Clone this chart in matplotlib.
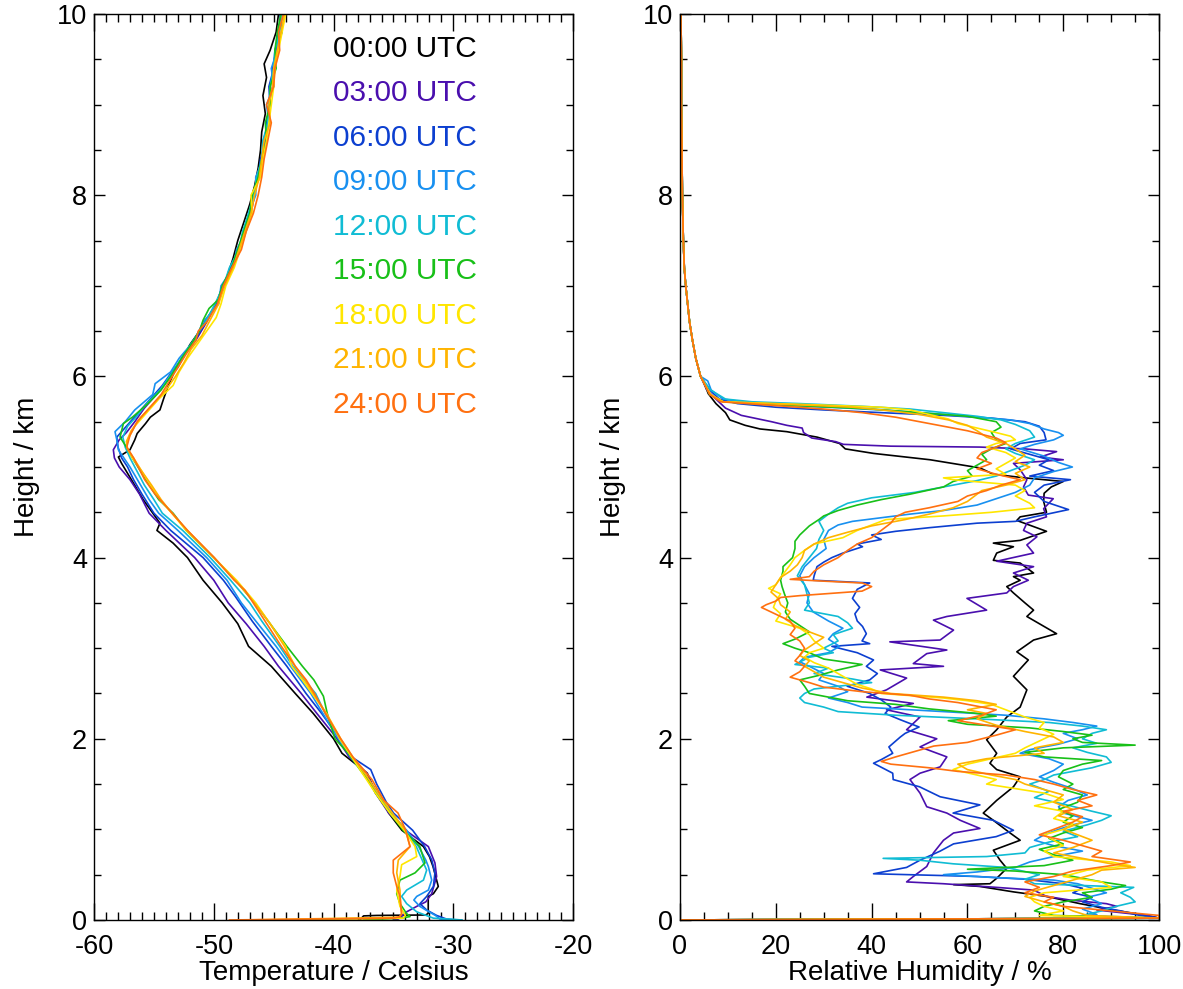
import numpy as np
import matplotlib.pyplot as plt
from matplotlib.ticker import MultipleLocator

plt.rcParams['font.family'] = ['Liberation Sans', 'DejaVu Sans']
plt.rcParams['axes.unicode_minus'] = False

hours = ['00:00 UTC', '03:00 UTC', '06:00 UTC', '09:00 UTC', '12:00 UTC',
         '15:00 UTC', '18:00 UTC', '21:00 UTC', '24:00 UTC']
colours = ['#000000', '#4a0fae', '#0c3fd0', '#1890f0', '#10bcd4',
           '#18c018', '#ffe600', '#ffb400', '#ff7010']

# temperature soundings: (height km, temperature C)
t_00 = [(10.0, -44.6), (9.8, -44.8), (9.6, -45.3), (9.45, -45.8), (9.3, -45.6), (9.1, -45.9),
        (8.9, -45.7), (8.7, -46.0), (8.5, -46.1), (8.3, -46.3), (8.1, -46.6), (7.9, -47.0),
        (7.7, -47.5), (7.5, -48.0), (7.3, -48.4), (7.1, -48.9), (6.95, -49.4), (6.8, -49.8),
        (6.65, -50.5), (6.5, -51.2), (6.35, -52.0), (6.2, -52.6), (6.05, -53.3), (5.9, -53.8),
        (5.75, -54.2), (5.63, -54.5), (5.55, -55.3), (5.48, -55.7), (5.37, -56.4), (5.30, -56.6),
        (5.19, -57.0), (5.11, -57.97), (5.04, -57.7), (4.82, -56.7), (4.64, -55.9), (4.38, -54.5),
        (4.30, -54.75), (4.16, -53.4), (4.0, -52.2), (3.75, -50.9), (3.50, -49.3), (3.27, -48.0),
        (3.02, -47.1), (2.80, -45.2), (2.50, -43.2), (2.28, -41.7), (2.0, -40.0), (1.84, -39.3),
        (1.62, -37.2), (1.50, -36.8), (1.32, -35.9), (1.18, -35.4), (0.99, -34.3), (0.81, -32.5),
        (0.70, -32.0), (0.59, -31.7), (0.44, -31.4), (0.37, -31.26), (0.29, -31.67), (0.26, -32.1),
        (0.074, -32.1), (0.055, -32.3), (0.05, -36.4), (0.045, -37.5), (0.0, -37.8)]
t_03 = [(10.0, -44.3), (9.8, -44.6), (9.6, -44.8), (9.4, -45.1), (9.2, -45.1), (9.0, -45.4),
        (8.8, -45.5), (8.6, -45.8), (8.4, -46.0), (8.2, -46.3), (8.0, -46.6), (7.8, -46.9),
        (7.6, -47.4), (7.4, -48.0), (7.2, -48.5), (7.0, -49.1), (6.8, -49.8), (6.6, -50.6),
        (6.4, -51.5), (6.25, -52.4), (6.1, -53.0), (5.95, -53.9), (5.8, -54.8), (5.65, -55.8),
        (5.5, -56.6), (5.38, -57.3), (5.3, -57.9), (5.19, -58.39), (5.1, -58.3), (5.0, -57.9),
        (4.86, -57.0), (4.7, -56.2), (4.49, -55.4), (4.3, -54.0), (4.0, -51.6), (3.75, -50.0),
        (3.5, -48.8), (3.27, -47.3), (3.02, -45.8), (2.8, -44.6), (2.5, -42.7), (2.28, -41.4),
        (2.0, -39.7), (1.8, -38.7), (1.62, -37.2), (1.4, -36.5), (1.18, -35.4), (0.99, -34.0),
        (0.81, -32.09), (0.63, -31.54), (0.48, -31.4), (0.29, -31.81), (0.20, -32.3),
        (0.15, -33.06), (0.09, -33.9), (0.03, -34.4), (0.01, -34.6), (0.0, -35.0)]
t_06 = [(10.0, -44.5), (9.8, -44.3), (9.6, -44.9), (9.4, -45.0), (9.2, -45.4), (9.0, -45.3),
        (8.8, -45.6), (8.6, -45.7), (8.4, -46.1), (8.2, -46.3), (8.0, -46.7), (7.8, -47.0),
        (7.6, -47.5), (7.4, -47.9), (7.2, -48.6), (7.0, -49.2), (6.8, -49.8), (6.6, -50.7),
        (6.4, -51.6), (6.2, -52.6), (6.05, -53.5), (5.9, -54.3), (5.75, -55.3), (5.6, -56.3),
        (5.45, -57.3), (5.33, -58.1), (5.22, -58.0), (5.1, -57.7), (5.0, -57.2), (4.86, -56.7),
        (4.7, -56.0), (4.49, -55.0), (4.3, -53.6), (4.0, -50.9), (3.75, -49.2), (3.57, -48.2),
        (3.3, -46.8), (3.02, -45.2), (2.8, -43.9), (2.5, -42.3), (2.28, -41.0), (2.0, -39.5),
        (1.8, -38.5), (1.66, -36.9), (1.5, -36.4), (1.3, -35.6), (1.18, -35.0), (0.99, -33.4),
        (0.81, -32.4), (0.66, -31.8), (0.52, -31.54), (0.37, -31.67), (0.26, -32.23),
        (0.18, -32.79), (0.11, -32.23), (0.05, -31.4), (0.01, -30.57), (0.0, -29.9)]
t_09 = [(10.0, -44.2), (9.8, -44.6), (9.6, -44.7), (9.4, -45.2), (9.2, -45.0), (9.0, -45.6),
        (8.8, -45.4), (8.6, -45.9), (8.4, -45.9), (8.2, -46.5), (8.0, -46.5), (7.8, -47.1),
        (7.6, -47.3), (7.4, -48.1), (7.2, -48.4), (7.0, -49.4), (6.8, -49.6), (6.6, -50.9),
        (6.4, -51.6), (6.2, -52.9), (6.05, -53.6), (5.92, -54.9), (5.8, -55.1), (5.63, -56.6),
        (5.5, -57.4), (5.39, -58.25), (5.30, -58.1), (5.19, -57.97), (5.0, -57.0), (4.82, -56.2),
        (4.64, -55.4), (4.49, -54.6), (4.3, -53.0), (4.0, -50.6), (3.75, -48.9), (3.5, -47.7),
        (3.3, -46.5), (3.02, -44.8), (2.8, -43.6), (2.5, -41.9), (2.28, -40.9), (2.0, -39.6),
        (1.8, -38.6), (1.62, -37.5), (1.4, -36.3), (1.18, -35.2), (0.99, -33.9), (0.81, -32.9),
        (0.66, -32.3), (0.59, -32.09), (0.44, -31.81), (0.33, -32.09), (0.26, -33.06),
        (0.22, -33.3), (0.15, -32.8), (0.11, -32.3), (0.05, -31.5), (0.01, -31.12), (0.0, -29.3)]
t_12 = [(10.0, -44.3), (9.8, -44.5), (9.6, -44.9), (9.4, -45.0), (9.2, -45.3), (9.0, -45.4),
        (8.8, -45.5), (8.6, -45.9), (8.4, -46.0), (8.2, -46.4), (8.0, -46.7), (7.8, -47.1),
        (7.6, -47.6), (7.4, -47.9), (7.2, -48.7), (7.0, -49.2), (6.8, -49.9), (6.6, -50.7),
        (6.4, -51.7), (6.2, -52.7), (6.0, -53.7), (5.85, -54.5), (5.7, -55.6), (5.55, -56.5),
        (5.45, -57.2), (5.33, -57.6), (5.22, -57.4), (5.1, -57.0), (4.95, -56.4), (4.8, -55.8),
        (4.64, -55.0), (4.49, -54.3), (4.3, -52.6), (4.0, -50.3), (3.75, -48.6), (3.5, -47.0),
        (3.3, -46.0), (3.02, -44.5), (2.8, -43.4), (2.5, -41.5), (2.28, -40.7), (2.0, -39.5),
        (1.8, -38.5), (1.6, -37.4), (1.4, -36.4), (1.18, -35.2), (0.99, -34.0), (0.81, -33.1),
        (0.66, -32.6), (0.55, -32.23), (0.44, -32.5), (0.33, -33.9), (0.26, -34.32),
        (0.18, -33.9), (0.09, -33.06), (0.02, -31.67), (0.0, -29.3)]
t_15 = [(10.0, -44.4), (9.8, -44.7), (9.6, -44.9), (9.4, -44.8), (9.2, -45.3), (9.0, -45.3),
        (8.8, -45.7), (8.6, -45.6), (8.4, -46.0), (8.2, -46.3), (8.0, -46.8), (7.8, -47.0),
        (7.6, -47.5), (7.4, -48.0), (7.2, -48.5), (7.0, -49.3), (6.85, -49.6), (6.75, -50.4),
        (6.62, -50.9), (6.5, -51.2), (6.35, -51.9), (6.2, -52.7), (6.0, -53.6), (5.85, -54.4),
        (5.7, -55.5), (5.55, -56.8), (5.48, -57.55), (5.33, -57.83), (5.22, -57.3), (5.1, -56.8),
        (4.95, -56.1), (4.8, -55.4), (4.64, -54.6), (4.49, -53.4), (4.3, -52.3), (4.0, -50.0),
        (3.75, -48.2), (3.5, -46.6), (3.27, -45.3), (3.02, -43.9), (2.8, -42.6), (2.65, -41.65),
        (2.47, -40.85), (2.28, -40.53), (2.0, -39.89), (1.84, -38.77), (1.66, -37.8),
        (1.55, -37.17), (1.4, -36.5), (1.18, -35.3), (0.99, -34.2), (0.81, -32.8), (0.63, -32.37),
        (0.52, -33.2), (0.44, -34.46), (0.37, -34.6), (0.29, -34.73), (0.18, -34.46),
        (0.07, -33.9), (0.037, -33.62), (0.02, -34.4), (0.0, -37.5)]
t_18 = [(10.0, -44.0), (9.8, -44.3), (9.6, -44.6), (9.4, -44.9), (9.2, -45.0), (9.0, -45.2),
        (8.8, -45.4), (8.6, -45.6), (8.4, -45.9), (8.2, -46.1), (8.0, -46.9), (7.8, -46.8),
        (7.6, -47.3), (7.4, -47.8), (7.2, -48.3), (7.0, -49.0), (6.8, -49.4), (6.65, -49.8),
        (6.5, -50.6), (6.35, -51.4), (6.2, -52.2), (6.05, -52.9), (5.9, -53.4), (5.75, -54.6),
        (5.6, -55.6), (5.45, -56.6), (5.3, -57.2), (5.22, -57.27), (5.1, -56.8), (4.95, -56.0),
        (4.8, -55.3), (4.64, -54.5), (4.49, -53.5), (4.3, -52.3), (4.0, -50.0), (3.75, -48.1),
        (3.5, -46.5), (3.27, -45.3), (3.02, -44.0), (2.80, -43.5), (2.65, -42.6), (2.5, -41.8),
        (2.28, -40.6), (2.0, -39.5), (1.8, -38.5), (1.6, -37.5), (1.4, -36.5), (1.18, -35.3),
        (0.99, -34.1), (0.81, -33.2), (0.70, -33.06), (0.61, -34.32), (0.48, -34.46),
        (0.33, -34.73), (0.15, -34.46), (0.05, -34.0), (0.02, -34.2), (0.0, -43.6)]
t_21 = [(10.0, -44.1), (9.8, -44.4), (9.6, -44.7), (9.4, -45.0), (9.2, -45.1), (9.0, -45.4),
        (8.8, -45.3), (8.6, -45.8), (8.4, -46.0), (8.2, -46.2), (8.0, -46.6), (7.8, -46.9),
        (7.6, -47.4), (7.4, -47.9), (7.2, -48.4), (7.0, -49.1), (6.8, -49.6), (6.6, -50.4),
        (6.45, -51.0), (6.3, -51.9), (6.15, -52.5), (6.0, -53.2), (5.85, -54.0), (5.7, -55.0),
        (5.55, -56.1), (5.4, -56.9), (5.28, -57.3), (5.2, -57.2), (5.1, -56.7), (4.95, -56.0),
        (4.8, -55.2), (4.64, -54.4), (4.49, -53.5), (4.3, -52.2), (4.0, -50.0), (3.75, -48.2),
        (3.5, -46.6), (3.27, -45.3), (3.02, -44.1), (2.8, -43.2), (2.65, -42.4), (2.5, -41.7),
        (2.28, -40.6), (2.0, -39.4), (1.8, -38.4), (1.6, -37.3), (1.4, -36.3), (1.18, -35.1),
        (0.99, -34.0), (0.81, -33.62), (0.66, -34.6), (0.52, -34.73), (0.33, -34.46),
        (0.15, -34.4), (0.07, -34.32), (0.03, -34.5), (0.0, -47.3)]
t_24 = [(10.0, -44.2), (9.8, -44.6), (9.6, -44.5), (9.4, -44.9), (9.2, -45.0), (9.0, -45.6),
        (8.8, -45.2), (8.6, -45.5), (8.4, -45.8), (8.2, -46.0), (8.0, -46.3), (7.8, -46.7),
        (7.6, -47.3), (7.4, -47.7), (7.2, -48.5), (7.0, -49.2), (6.8, -49.7), (6.6, -50.6),
        (6.5, -51.3), (6.4, -51.5), (6.25, -52.3), (6.1, -53.0), (5.95, -53.7), (5.8, -54.4),
        (5.65, -55.4), (5.5, -56.4), (5.35, -57.0), (5.22, -57.27), (5.1, -56.7), (4.86, -55.77),
        (4.7, -54.9), (4.49, -53.47), (4.3, -52.2), (4.0, -49.96), (3.75, -48.3), (3.64, -47.40),
        (3.38, -46.12), (3.02, -44.36), (2.8, -43.2), (2.65, -42.29), (2.5, -41.6),
        (2.28, -40.69), (2.0, -39.41), (1.8, -38.4), (1.55, -36.8), (1.32, -35.8), (1.18, -34.62),
        (0.99, -33.98), (0.81, -33.62), (0.66, -35.02), (0.52, -35.02), (0.37, -34.73),
        (0.26, -34.46), (0.07, -34.32), (0.037, -34.46), (0.02, -35.0), (0.0, -48.7)]

# relative humidity soundings: (height km, RH %), common dry upper part first
rh_top = [(10.0, 0.2), (9.5, 0.3), (9.0, 0.3), (8.5, 0.4), (8.0, 0.5), (7.5, 0.7), (7.2, 0.9),
          (7.0, 1.2), (6.8, 1.6), (6.6, 2.0), (6.4, 2.6), (6.2, 3.3), (6.0, 4.3)]
rh_00 = rh_top + [
    (5.96, 4.8), (5.81, 5.9), (5.7, 7.5), (5.6, 9.5), (5.52, 10.4), (5.46, 13.6), (5.42, 16.7),
    (5.39, 22.3), (5.33, 28.6), (5.26, 33.3), (5.2, 34.5), (5.15, 40.4), (5.08, 52.2),
    (4.99, 62.6), (4.92, 65.4), (4.88, 72.0), (4.84, 80.0), (4.78, 77.5), (4.71, 76.0),
    (4.62, 75.9), (4.5, 76.5), (4.45, 71.0), (4.41, 70.3), (4.29, 76.5), (4.19, 71.0),
    (4.16, 65.4), (4.12, 69.6), (4.05, 66.1), (3.97, 65.4), (3.94, 71.0), (3.83, 73.8),
    (3.79, 69.6), (3.75, 71.0), (3.68, 68.2), (3.61, 69.6), (3.5, 72.0), (3.42, 73.8),
    (3.35, 72.4), (3.16, 78.6), (3.09, 73.8), (2.96, 70.3), (2.87, 72.7), (2.69, 69.6),
    (2.54, 72.4), (2.35, 71.0), (2.24, 68.2), (2.10, 66.1), (1.99, 64.0), (1.84, 66.1),
    (1.73, 64.7), (1.66, 66.1), (1.58, 71.0), (1.47, 69.6), (1.32, 66.1), (1.18, 63.3),
    (1.10, 65.4), (0.96, 68.9), (0.88, 71.0), (0.77, 65.4), (0.66, 66.8), (0.57, 68.2),
    (0.46, 66.1), (0.40, 64.7), (0.39, 57.1), (0.37, 62.6), (0.31, 69.6), (0.26, 76.5),
    (0.18, 83.5), (0.11, 90.4), (0.05, 97.4), (0.02, 100.0), (0.0, 0.0)]
rh_03 = rh_top + [
    (5.85, 5.6), (5.75, 7.5), (5.65, 9.5), (5.57, 12.8), (5.50, 19.1), (5.46, 22.3),
    (5.43, 25.5), (5.38, 25.8), (5.32, 27.5), (5.28, 32.5), (5.25, 34.1), (5.23, 44.0),
    (5.22, 62.6), (5.20, 72.0), (5.17, 78.6), (5.11, 75.2), (5.08, 80.0), (5.04, 69.6),
    (4.97, 71.0), (4.86, 72.4), (4.78, 71.7), (4.69, 72.7), (4.65, 77.9), (4.54, 75.9),
    (4.45, 76.5), (4.38, 72.4), (4.30, 71.7), (4.23, 74.5), (4.14, 72.4), (4.05, 73.8),
    (3.96, 66.1), (3.90, 73.8), (3.83, 69.6), (3.75, 72.7), (3.68, 69.6), (3.61, 68.2),
    (3.55, 59.9), (3.42, 64.0), (3.35, 55.7), (3.31, 52.9), (3.20, 57.1), (3.09, 54.3),
    (3.07, 43.8), (2.98, 55.7), (2.94, 51.5), (2.83, 48.7), (2.80, 55.0), (2.76, 41.8),
    (2.67, 47.3), (2.54, 43.1), (2.46, 39.0), (2.39, 48.7), (2.32, 43.1), (2.24, 50.1),
    (2.10, 47.3), (2.00, 53.6), (1.91, 50.1), (1.80, 55.7), (1.69, 54.3), (1.62, 50.1),
    (1.55, 48.0), (1.40, 50.1), (1.25, 51.5), (1.18, 55.7), (1.10, 58.5), (1.01, 62.6),
    (0.96, 57.1), (0.88, 55.0), (0.74, 52.9), (0.59, 51.5), (0.48, 48.7), (0.42, 47.3),
    (0.40, 55.0), (0.36, 66.0), (0.33, 73.8), (0.26, 76.5), (0.22, 81.4), (0.18, 89.0),
    (0.15, 91.2), (0.11, 87.0), (0.05, 97.4), (0.02, 100.0), (0.0, 0.0)]
rh_06 = rh_top + [
    (5.85, 6.2), (5.75, 8.2), (5.70, 12.0), (5.66, 20.0), (5.63, 30.0), (5.60, 42.0),
    (5.57, 55.0), (5.54, 65.0), (5.50, 72.0), (5.45, 75.0), (5.38, 76.0), (5.30, 76.4),
    (5.26, 71.0), (5.20, 69.0), (5.14, 73.0), (5.08, 77.0), (5.02, 75.0), (4.96, 78.0),
    (4.90, 73.0), (4.86, 81.5), (4.80, 76.0), (4.72, 74.0), (4.62, 76.0), (4.53, 81.1),
    (4.45, 74.0), (4.40, 70.0), (4.38, 62.0), (4.33, 52.0), (4.29, 45.0), (4.25, 40.0),
    (4.20, 42.0), (4.15, 37.0), (4.12, 38.1), (4.05, 34.0), (4.00, 31.7), (3.95, 30.0),
    (3.90, 28.6), (3.80, 28.0), (3.75, 27.8), (3.72, 39.6), (3.65, 37.0), (3.55, 36.0),
    (3.45, 37.5), (3.38, 36.5), (3.30, 37.0), (3.24, 38.1), (3.16, 38.9), (3.08, 38.0),
    (3.05, 39.6), (3.02, 31.7), (2.95, 37.0), (2.87, 40.4), (2.80, 38.9), (2.72, 41.2),
    (2.65, 39.6), (2.58, 34.9), (2.50, 39.6), (2.43, 42.0), (2.35, 44.0), (2.28, 42.8),
    (2.21, 46.0), (2.13, 49.9), (2.06, 47.0), (2.02, 46.0), (1.91, 43.6), (1.84, 44.4),
    (1.77, 42.0), (1.73, 40.4), (1.62, 44.4), (1.55, 44.5), (1.47, 50.0), (1.36, 54.3),
    (1.27, 62.6), (1.18, 57.0), (1.10, 65.4), (0.99, 69.6), (0.92, 66.0), (0.84, 57.1),
    (0.76, 54.3), (0.66, 50.1), (0.58, 47.3), (0.51, 40.4), (0.49, 55.0), (0.48, 62.0),
    (0.45, 72.0), (0.40, 80.0), (0.35, 84.0), (0.30, 82.0), (0.25, 86.0), (0.20, 84.0),
    (0.14, 88.0), (0.10, 92.0), (0.05, 96.0), (0.02, 100.0), (0.0, 0.0)]
rh_09 = rh_top + [
    (5.95, 5.8), (5.85, 6.5), (5.75, 9.0), (5.72, 13.0), (5.70, 18.0), (5.67, 26.0),
    (5.65, 35.0), (5.62, 45.0), (5.58, 55.0), (5.55, 62.0), (5.52, 69.0), (5.48, 73.0),
    (5.42, 76.0), (5.38, 79.0), (5.35, 80.0), (5.30, 78.0), (5.25, 74.0), (5.20, 71.0),
    (5.12, 76.0), (5.05, 79.0), (5.00, 81.9), (4.95, 78.0), (4.88, 74.0), (4.80, 73.0),
    (4.72, 70.0), (4.65, 66.0), (4.58, 62.0), (4.52, 55.0), (4.48, 48.0), (4.44, 42.0),
    (4.40, 36.0), (4.36, 33.0), (4.30, 31.0), (4.20, 30.0), (4.10, 30.5), (4.00, 28.0),
    (3.90, 26.0), (3.80, 25.0), (3.70, 26.0), (3.60, 27.0), (3.50, 26.5), (3.40, 27.8),
    (3.30, 31.0), (3.22, 34.0), (3.16, 32.0), (3.10, 31.0), (3.02, 33.3), (2.95, 31.0),
    (2.90, 26.0), (2.85, 25.0), (2.80, 27.0), (2.72, 30.0), (2.65, 29.0), (2.58, 33.0),
    (2.52, 35.0), (2.45, 31.0), (2.40, 35.0), (2.35, 38.0), (2.30, 55.0), (2.26, 68.0),
    (2.22, 76.0), (2.18, 82.0), (2.14, 87.0), (2.10, 84.0), (2.06, 80.0), (2.00, 83.0),
    (1.94, 79.0), (1.88, 73.0), (1.84, 71.0), (1.78, 77.0), (1.72, 80.0), (1.65, 78.0),
    (1.58, 75.0), (1.52, 78.0), (1.45, 82.0), (1.38, 85.0), (1.32, 81.0), (1.25, 79.0),
    (1.18, 80.0), (1.10, 86.0), (1.05, 82.0), (1.00, 79.0), (0.94, 76.0), (0.88, 74.0),
    (0.82, 78.0), (0.76, 84.0), (0.70, 78.0), (0.64, 73.0), (0.58, 70.0), (0.53, 62.0),
    (0.50, 55.0), (0.47, 65.0), (0.44, 78.0), (0.40, 83.0), (0.35, 86.0), (0.30, 89.0),
    (0.25, 85.0), (0.18, 88.0), (0.12, 84.0), (0.06, 87.0), (0.03, 80.0), (0.02, 100.0),
    (0.0, 0.0)]
rh_12 = rh_top + [
    (5.85, 6.4), (5.75, 9.5), (5.72, 15.0), (5.70, 25.0), (5.67, 38.0), (5.64, 48.0),
    (5.60, 55.0), (5.56, 62.0), (5.52, 67.0), (5.47, 70.0), (5.40, 73.0), (5.33, 74.0),
    (5.26, 70.0), (5.20, 68.0), (5.15, 70.0), (5.08, 74.0), (5.02, 72.0), (4.96, 69.0),
    (4.90, 66.0), (4.85, 62.0), (4.78, 55.0), (4.72, 49.0), (4.66, 40.0), (4.60, 35.0),
    (4.55, 33.0), (4.48, 31.0), (4.40, 29.0), (4.30, 30.0), (4.20, 29.0), (4.10, 28.5),
    (4.00, 27.0), (3.90, 25.5), (3.80, 24.5), (3.70, 26.0), (3.60, 26.5), (3.50, 27.0),
    (3.42, 26.0), (3.35, 33.0), (3.28, 35.0), (3.22, 36.0), (3.15, 32.0), (3.08, 33.0),
    (3.00, 30.0), (2.95, 32.0), (2.90, 27.0), (2.82, 24.0), (2.78, 31.0), (2.72, 28.0),
    (2.66, 36.0), (2.62, 40.0), (2.58, 33.0), (2.55, 28.0), (2.50, 26.0), (2.45, 25.0),
    (2.40, 26.0), (2.35, 30.0), (2.30, 33.0), (2.26, 45.0), (2.22, 62.0), (2.18, 77.0),
    (2.14, 84.0), (2.10, 89.0), (2.06, 86.0), (2.00, 84.0), (1.95, 87.0), (1.90, 82.0),
    (1.85, 85.0), (1.80, 89.0), (1.74, 90.0), (1.68, 86.0), (1.60, 78.0), (1.55, 76.0),
    (1.50, 73.0), (1.42, 77.0), (1.35, 74.0), (1.28, 80.0), (1.20, 86.0), (1.15, 90.0),
    (1.10, 88.0), (1.05, 85.0), (0.98, 80.0), (0.92, 83.0), (0.86, 77.0), (0.80, 73.0),
    (0.74, 72.0), (0.70, 64.0), (0.68, 42.4), (0.66, 50.0), (0.62, 57.0), (0.58, 68.0),
    (0.50, 75.0), (0.45, 72.0), (0.40, 74.0), (0.36, 94.7), (0.30, 92.0), (0.25, 94.0),
    (0.20, 95.0), (0.15, 91.0), (0.10, 88.0), (0.05, 84.0), (0.02, 100.0), (0.0, 0.0)]
rh_15 = rh_top + [
    (5.8, 6.2), (5.72, 9.0), (5.69, 18.0), (5.67, 28.0), (5.64, 40.0), (5.60, 50.0),
    (5.56, 60.0), (5.50, 66.0), (5.44, 67.0), (5.38, 65.0), (5.30, 66.0), (5.26, 68.0),
    (5.20, 65.0), (5.14, 63.0), (5.08, 64.0), (5.02, 62.0), (4.96, 60.0), (4.90, 61.0),
    (4.84, 57.0), (4.78, 55.0), (4.70, 48.0), (4.64, 42.0), (4.58, 37.0), (4.52, 33.0),
    (4.46, 30.0), (4.42, 29.0), (4.35, 27.0), (4.30, 26.0), (4.25, 25.0), (4.18, 24.0),
    (4.10, 24.0), (4.00, 23.5), (3.95, 22.5), (3.90, 21.5), (3.85, 21.5), (3.75, 21.0),
    (3.68, 21.3), (3.60, 21.8), (3.50, 22.5), (3.40, 22.0), (3.32, 23.0), (3.25, 25.0),
    (3.18, 27.0), (3.10, 24.0), (3.05, 21.5), (3.00, 24.0), (2.95, 27.0), (2.88, 30.0),
    (2.82, 38.0), (2.76, 33.0), (2.70, 29.0), (2.65, 25.0), (2.58, 26.0), (2.50, 27.0),
    (2.42, 35.0), (2.38, 45.0), (2.33, 52.0), (2.28, 62.0), (2.25, 66.0), (2.20, 56.0),
    (2.16, 60.0), (2.12, 73.0), (2.08, 80.0), (2.04, 86.0), (2.00, 82.0), (1.96, 84.0),
    (1.93, 95.0), (1.90, 80.0), (1.85, 72.0), (1.80, 76.0), (1.76, 88.0), (1.72, 84.0),
    (1.65, 80.0), (1.58, 79.0), (1.50, 82.0), (1.44, 80.0), (1.38, 84.0), (1.30, 83.0),
    (1.22, 79.0), (1.15, 82.0), (1.08, 80.0), (1.02, 84.0), (0.96, 80.0), (0.90, 77.0),
    (0.84, 80.0), (0.78, 75.0), (0.72, 78.0), (0.66, 82.0), (0.60, 76.0), (0.56, 60.0),
    (0.54, 70.0), (0.50, 80.0), (0.46, 84.0), (0.42, 88.0), (0.38, 93.0), (0.34, 90.0),
    (0.30, 84.0), (0.25, 86.0), (0.20, 80.0), (0.15, 76.0), (0.10, 74.0), (0.05, 78.0),
    (0.02, 100.0), (0.0, 0.0)]
rh_18 = rh_top + [
    (5.8, 6.4), (5.72, 9.0), (5.70, 20.0), (5.68, 32.0), (5.66, 42.0), (5.63, 48.0),
    (5.58, 52.0), (5.53, 56.0), (5.48, 58.0), (5.43, 62.0), (5.38, 66.0), (5.34, 69.0),
    (5.30, 70.0), (5.26, 66.0), (5.22, 64.0), (5.16, 68.0), (5.10, 70.0), (5.04, 68.0),
    (4.98, 66.0), (4.92, 68.0), (4.88, 55.0), (4.86, 57.0), (4.80, 70.0), (4.74, 72.0),
    (4.68, 70.0), (4.60, 73.0), (4.55, 74.0), (4.50, 65.0), (4.46, 55.0), (4.42, 43.0),
    (4.36, 40.0), (4.30, 37.0), (4.22, 34.0), (4.15, 28.0), (4.08, 26.0), (4.00, 24.0),
    (3.92, 23.0), (3.85, 22.0), (3.78, 21.0), (3.70, 20.0), (3.66, 18.5), (3.60, 21.0),
    (3.52, 20.0), (3.45, 19.5), (3.38, 21.0), (3.30, 20.0), (3.22, 25.0), (3.15, 27.0),
    (3.08, 28.0), (3.00, 30.0), (2.95, 27.0), (2.90, 26.0), (2.84, 28.0), (2.78, 31.0),
    (2.72, 33.0), (2.66, 35.0), (2.60, 37.0), (2.55, 40.0), (2.50, 42.0), (2.45, 55.0),
    (2.42, 60.0), (2.38, 65.0), (2.34, 67.0), (2.28, 70.0), (2.24, 72.0), (2.18, 76.0),
    (2.12, 75.0), (2.05, 78.0), (2.00, 76.0), (1.95, 74.0), (1.90, 72.0), (1.84, 70.0),
    (1.78, 65.0), (1.72, 60.0), (1.66, 57.0), (1.60, 62.0), (1.55, 66.0), (1.50, 64.0),
    (1.45, 70.0), (1.40, 76.0), (1.33, 80.0), (1.26, 74.0), (1.20, 80.0), (1.12, 78.0),
    (1.06, 82.0), (1.00, 80.0), (0.94, 76.0), (0.88, 78.0), (0.82, 80.0), (0.76, 76.0),
    (0.70, 78.0), (0.64, 90.0), (0.60, 94.0), (0.55, 85.0), (0.48, 80.0), (0.42, 88.0),
    (0.36, 90.0), (0.30, 76.0), (0.25, 73.0), (0.20, 74.0), (0.15, 76.0), (0.10, 80.0),
    (0.05, 75.0), (0.02, 100.0), (0.0, 0.0)]
rh_21 = rh_top + [
    (5.8, 6.3), (5.72, 9.0), (5.70, 18.0), (5.68, 28.0), (5.66, 36.0), (5.62, 44.0),
    (5.58, 50.0), (5.52, 56.0), (5.46, 60.0), (5.40, 62.0), (5.33, 64.0), (5.26, 68.0),
    (5.20, 70.0), (5.13, 72.0), (5.06, 70.0), (5.00, 73.0), (4.93, 70.0), (4.86, 72.0),
    (4.80, 68.0), (4.74, 63.0), (4.70, 62.0), (4.62, 60.0), (4.55, 57.0), (4.48, 52.0),
    (4.42, 47.0), (4.35, 40.0), (4.28, 35.0), (4.22, 31.0), (4.15, 28.0), (4.08, 26.0),
    (4.00, 25.5), (3.92, 24.5), (3.85, 23.0), (3.78, 21.0), (3.70, 20.0), (3.62, 19.0),
    (3.55, 20.5), (3.48, 21.0), (3.40, 23.0), (3.32, 22.0), (3.25, 24.0), (3.18, 27.0),
    (3.12, 30.0), (3.05, 28.0), (2.98, 26.0), (2.92, 25.0), (2.86, 27.0), (2.80, 26.0),
    (2.74, 28.0), (2.68, 30.0), (2.62, 34.0), (2.56, 38.0), (2.50, 44.0), (2.46, 55.0),
    (2.42, 62.0), (2.38, 66.0), (2.32, 60.0), (2.28, 64.0), (2.22, 62.0), (2.15, 66.0),
    (2.08, 72.0), (2.02, 78.0), (1.96, 80.0), (1.90, 74.0), (1.84, 76.0), (1.78, 64.0),
    (1.72, 58.0), (1.66, 60.0), (1.60, 65.0), (1.55, 70.0), (1.50, 72.0), (1.44, 76.0),
    (1.38, 80.0), (1.30, 78.0), (1.22, 82.0), (1.15, 79.0), (1.08, 84.0), (1.00, 80.0),
    (0.94, 83.0), (0.88, 86.0), (0.80, 82.0), (0.74, 78.0), (0.68, 84.0), (0.62, 90.0),
    (0.58, 95.0), (0.55, 88.0), (0.50, 86.0), (0.44, 82.0), (0.38, 78.0), (0.32, 74.0),
    (0.26, 72.0), (0.20, 76.0), (0.15, 80.0), (0.10, 82.0), (0.05, 85.0), (0.02, 100.0),
    (0.0, 0.0)]
rh_24 = rh_top + [
    (5.8, 6.2), (5.72, 8.5), (5.70, 14.0), (5.67, 22.0), (5.64, 30.0), (5.60, 38.0),
    (5.55, 45.0), (5.50, 50.0), (5.45, 55.0), (5.40, 60.0), (5.36, 63.0), (5.32, 66.0),
    (5.27, 68.0), (5.22, 66.0), (5.16, 63.0), (5.10, 62.0), (5.04, 65.0), (4.98, 62.0),
    (4.92, 66.0), (4.86, 71.0), (4.80, 67.0), (4.74, 64.0), (4.68, 60.0), (4.62, 58.0),
    (4.55, 52.0), (4.50, 47.0), (4.45, 45.0), (4.38, 44.0), (4.30, 42.0), (4.22, 40.0),
    (4.15, 37.0), (4.08, 35.0), (4.00, 33.0), (3.92, 30.0), (3.85, 28.0), (3.79, 27.0),
    (3.76, 23.0), (3.74, 30.0), (3.72, 38.0), (3.68, 40.0), (3.63, 38.0), (3.58, 25.0),
    (3.56, 21.0), (3.52, 20.0), (3.48, 18.0), (3.45, 17.0), (3.40, 19.0), (3.35, 21.0),
    (3.30, 23.0), (3.22, 24.0), (3.15, 23.0), (3.08, 25.0), (3.00, 26.0), (2.92, 25.0),
    (2.86, 24.0), (2.80, 26.0), (2.74, 25.0), (2.68, 23.0), (2.62, 27.0), (2.57, 30.0),
    (2.52, 38.0), (2.48, 48.0), (2.44, 52.0), (2.40, 58.0), (2.36, 62.0), (2.32, 66.0),
    (2.26, 63.0), (2.20, 58.0), (2.15, 64.0), (2.10, 70.0), (2.04, 66.0), (1.96, 60.0),
    (1.92, 53.0), (1.86, 49.0), (1.80, 45.0), (1.75, 42.0), (1.72, 44.0), (1.68, 52.0),
    (1.64, 58.0), (1.60, 68.0), (1.55, 74.0), (1.50, 78.0), (1.44, 82.0), (1.38, 87.0),
    (1.32, 83.0), (1.26, 86.0), (1.20, 80.0), (1.14, 84.0), (1.08, 82.0), (1.00, 78.0),
    (0.94, 75.0), (0.88, 80.0), (0.82, 84.0), (0.76, 88.0), (0.70, 86.0), (0.64, 94.0),
    (0.60, 90.0), (0.54, 82.0), (0.48, 78.0), (0.42, 72.0), (0.36, 75.0), (0.30, 72.0),
    (0.25, 78.0), (0.20, 76.0), (0.15, 80.0), (0.10, 90.0), (0.05, 100.0), (0.02, 100.0),
    (0.0, 0.0)]

temp_profiles = [t_00, t_03, t_06, t_09, t_12, t_15, t_18, t_21, t_24]
rh_profiles = [rh_00, rh_03, rh_06, rh_09, rh_12, rh_15, rh_18, rh_21, rh_24]

fig = plt.figure(figsize=(11.83, 9.89), dpi=100)
ax1 = fig.add_axes([0.0795, 0.0698, 0.405, 0.916])
ax2 = fig.add_axes([0.5748, 0.0698, 0.405, 0.916])

for prof, c in zip(temp_profiles, colours):
    p = np.array(prof)
    ax1.plot(p[:, 1], p[:, 0], color=c, lw=1.2)

for prof, c in zip(rh_profiles, colours):
    p = np.array(prof)
    ax2.plot(p[:, 1], p[:, 0], color=c, lw=1.2)

for i, (lab, c) in enumerate(zip(hours, colours)):
    ax1.text(0.499, 0.9614 - i * 0.0491, lab, color=c, fontsize=21.5,
             transform=ax1.transAxes, ha='left', va='center')

ax1.set_xlim(-60, -20)
ax2.set_xlim(0, 100)
ax1.xaxis.set_major_locator(MultipleLocator(10))
ax1.xaxis.set_minor_locator(MultipleLocator(1))
ax2.xaxis.set_major_locator(MultipleLocator(20))
ax2.xaxis.set_minor_locator(MultipleLocator(5))
ax1.set_xlabel('Temperature / Celsius', fontsize=20, labelpad=0)
ax2.set_xlabel('Relative Humidity / %', fontsize=20, labelpad=0)

for ax in (ax1, ax2):
    ax.set_ylim(0, 10)
    ax.yaxis.set_major_locator(MultipleLocator(2))
    ax.yaxis.set_minor_locator(MultipleLocator(0.5))
    ax.set_ylabel('Height / km', fontsize=20, labelpad=12)
    ax.tick_params(which='both', direction='in', top=True, right=True, width=1.0)
    ax.tick_params(axis='x', which='major', length=12, pad=10, labelsize=19.5)
    ax.tick_params(axis='x', which='minor', length=6)
    ax.tick_params(axis='y', which='major', length=8, pad=5, labelsize=19.5)
    ax.tick_params(axis='y', which='minor', length=5)
    for s in ax.spines.values():
        s.set_linewidth(1.0)

fig.savefig('out.png', dpi=100)
